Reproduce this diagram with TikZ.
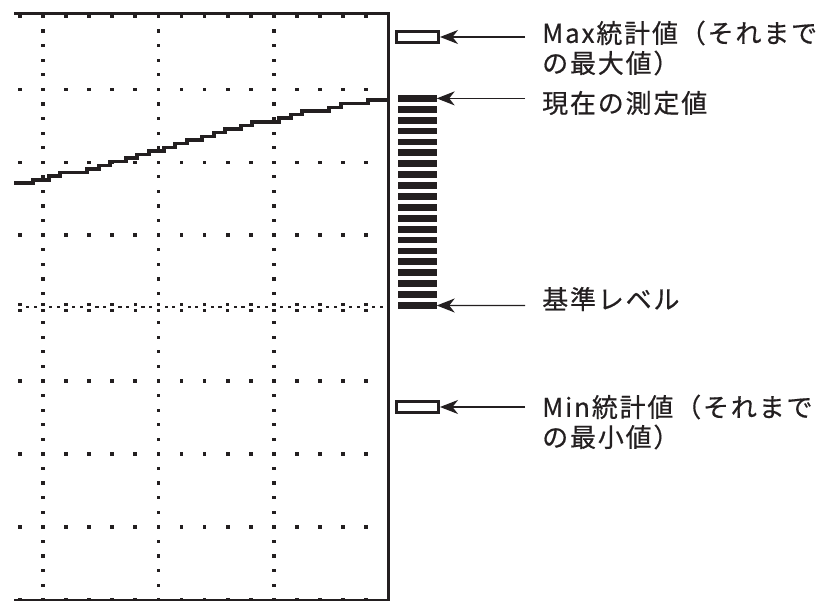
\documentclass[tikz,border=0pt]{standalone}
\usepackage{fontspec}
\setmainfont{Noto Sans CJK JP}[FakeBold=0.5,LetterSpace=7]
\usetikzlibrary{arrows.meta}
\definecolor{ink}{RGB}{35,31,32}
\begin{document}
\begin{tikzpicture}[x=1pt,y=-1pt,
  frame/.style={ink,line width=3pt},
  griddot/.style={fill=ink},
  trace/.style={ink,line width=3.6pt},
  marker/.style={rectangle,draw=ink,line width=3pt,minimum width=42pt,minimum height=11pt,inner sep=0,outer sep=1.5pt},
  bar/.style={rectangle,fill=ink,minimum width=39pt,minimum height=6.8pt,inner sep=0,outer sep=0},
  pointer/.style={ink,line width=1.3pt,-{Stealth[length=18pt,width=14pt,inset=5.5pt]}},
  label/.style={anchor=west,inner sep=0,align=left,font=\fontsize{26}{30}\selectfont,text=ink}]
\useasboundingbox (0,0) rectangle (822,601);

% horizontal dotted rows
\foreach \j in {0,1,2,3,5,6,7,8} {
  \foreach \k in {0,...,15} {
    \fill[griddot] ({20+23.07*\k-1.9},{16.5+72.9*\j-1.7}) rectangle ++(3.8,3.4);
  }
}
% vertical dotted columns
\foreach \c in {1,6,11} {
  \foreach \i in {0,...,40} {
    \ifnum\i=20\else
      \fill[griddot] ({20+23.07*\c-1.8},{16.5+14.58*\i-1.6}) rectangle ++(3.6,3.2);
    \fi
  }
}
% reference level row
\foreach \k in {0,...,15} {
  \fill[griddot] ({20+23.07*\k-1.8},{304.3-1.5}) rectangle ++(3.6,3);
  \fill[griddot] ({20+23.07*\k-1.8},{310.8-1.5}) rectangle ++(3.6,3);
  \fill[griddot] ({20+23.07*\k+7.7-1.6},{307.5-1}) rectangle ++(3.2,2);
  \fill[griddot] ({20+23.07*\k+15.4-1.6},{307.5-1}) rectangle ++(3.2,2);
}

% frame
\draw[frame] (14,13.5) -- (388,13.5) -- (388,602);
\draw[frame] (14,600) -- (388,600);

% trace
\draw[trace] (14,183.3) -| (33,180) -| (49,176) -| (60,172.7) -| (87,169) -| (99,165.7)
  -| (110,161.7) -| (126,158) -| (137,154.7) -| (149,151) -| (164,147.7) -| (175,143.7)
  -| (187,140.3) -| (202,136.7) -| (214,132.7) -| (225,129) -| (241,125.7) -| (252,122)
  -| (279,118.3) -| (291,114.7) -| (302,111) -| (329,107.7) -| (341,103.7) -| (368,100)
  -- (387,100);

% markers and bars
\node[marker] (max) at (417.5,37) {};
\node[marker] (min) at (417.5,407) {};
\foreach \i in {0,...,19} {
  \node[bar] (bar\i) at (417.2,{98.4+10.9*\i}) {};
}

% labels
\node[label] (maxlbl) at (542,48) {Max統計値（それまで\\の最大値）};
\node[label] (curlbl) at (542,103) {現在の測定値};
\node[label] (reflbl) at (542,299) {基準レベル};
\node[label] (minlbl) at (542,422) {Min統計値（それまで\\の最小値）};

% arrows
\coordinate (tmax) at (525,37);
\coordinate (tcur) at (525,98.4);
\coordinate (tref) at (525,305.5);
\coordinate (tmin) at (525,407);
\draw[pointer] (tmax) -- (max.east);
\draw[pointer] (tcur) -- (bar0.east);
\draw[pointer] (tref) -- (bar19.east);
\draw[pointer] (tmin) -- (min.east);
\end{tikzpicture}
\end{document}
